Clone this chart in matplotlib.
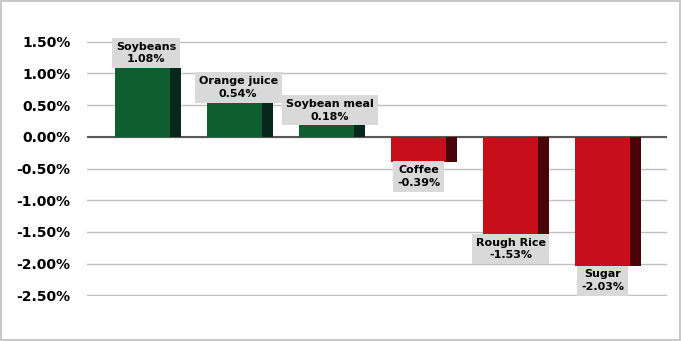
import matplotlib.pyplot as plt
import numpy as np
from matplotlib.patches import Rectangle

categories = ['Soybeans', 'Orange juice', 'Soybean meal', 'Coffee', 'Rough Rice', 'Sugar']
changes = [1.08, 0.54, 0.18, -0.39, -1.53, -2.03]
ytick_vals = [1.5, 1.0, 0.5, 0.0, -0.5, -1.0, -1.5, -2.0, -2.5]

face_pos, side_pos = '#0f5e32', '#06281a'
face_neg, side_neg = '#c60f1a', '#4a0309'

fig = plt.figure(figsize=(6.81, 3.41), dpi=100)
fig.patches.append(Rectangle((0.001, 0.002), 0.997, 0.995, transform=fig.transFigure,
                             fill=False, edgecolor='#bfbfbf', linewidth=1.2))
ax = fig.add_axes([87 / 681, 1 - 296 / 341, 580 / 681, 255 / 341])

x = np.arange(len(categories))
face_w, side_w = 0.6, 0.12
left = x - (face_w + side_w) / 2
faces = [face_pos if v >= 0 else face_neg for v in changes]
sides = [side_pos if v >= 0 else side_neg for v in changes]
ax.bar(left, changes, width=face_w, align='edge', color=faces, zorder=3)
ax.bar(left + face_w, changes, width=side_w, align='edge', color=sides, zorder=3)

for xi, v, name in zip(x, changes, categories):
    txt = f'{name}\n{v:.2f}%'
    if v >= 0:
        ax.text(xi - 0.02, v + 0.06, txt, ha='center', va='bottom', fontsize=8,
                fontweight='bold', linespacing=1.3, zorder=4, clip_on=False,
                bbox=dict(boxstyle='square,pad=0.35', fc='#d9d9d9', ec='none'))
    else:
        ax.text(xi - 0.06, v - 0.06, txt, ha='center', va='top', fontsize=8,
                fontweight='bold', linespacing=1.3, zorder=4, clip_on=False,
                bbox=dict(boxstyle='square,pad=0.35', fc='#d9d9d9', ec='none'))

ax.set_xlim(-0.663, 5.64)
ax.set_ylim(-2.508, 1.508)
ax.set_yticks(ytick_vals)
ax.set_yticklabels([f'{t:.2f}%' for t in ytick_vals], fontsize=10, fontweight='bold')
ax.set_xticks([])
ax.tick_params(axis='y', length=0, pad=12)
ax.grid(axis='y', color='#bfbfbf', linewidth=1, zorder=0)
ax.axhline(0, color='#595959', linewidth=1.5, zorder=2)
for s in ax.spines.values():
    s.set_visible(False)

fig.savefig('out.png', dpi=100)
